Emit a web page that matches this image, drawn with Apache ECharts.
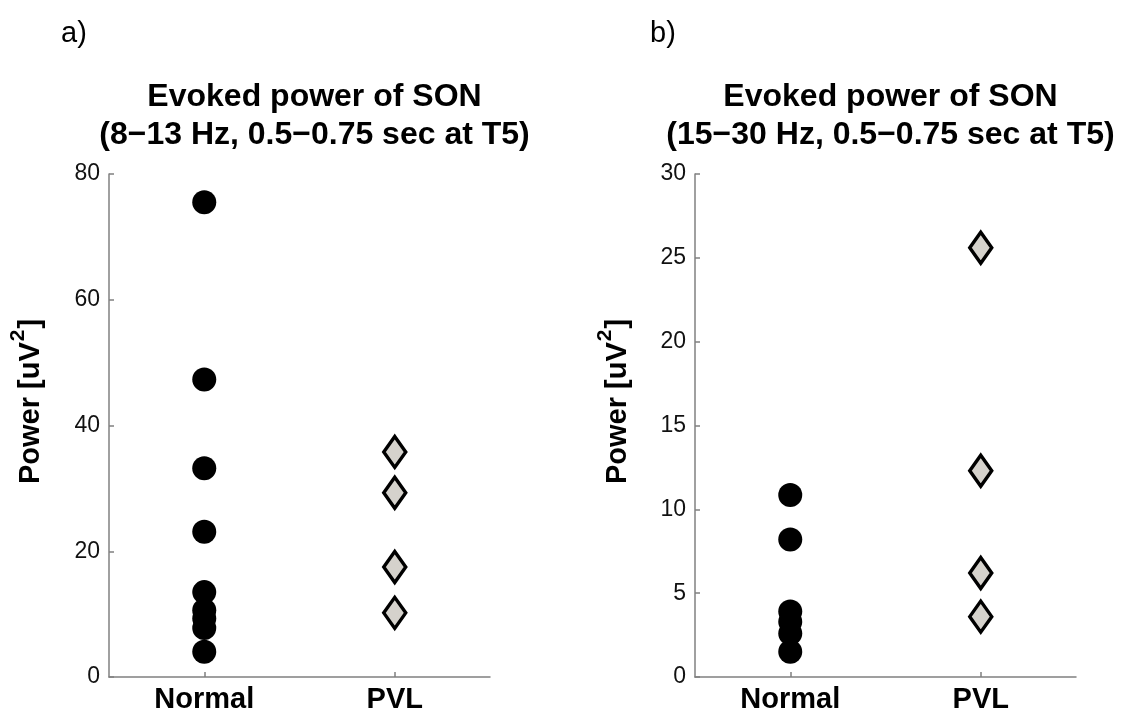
<!DOCTYPE html>
<html>
<head>
<meta charset="utf-8">
<script src="https://cdn.jsdelivr.net/npm/echarts@6/dist/echarts.min.js"></script>
<style>
  html, body { margin: 0; padding: 0; background: #fff; }
  #chart { width: 1140px; height: 716px; }
</style>
</head>
<body>
<div id="chart"></div>
<script>
// Groups on the horizontal axis
const groups = ['Normal', 'PVL'];

// Evoked power, 8-13 Hz band (uV^2)
const alphaNormal = [75.5, 47.3, 33.2, 23.1, 13.5, 10.6, 9.3, 7.8, 4.0];
const alphaPVL = [35.8, 29.3, 17.5, 10.2];

// Evoked power, 15-30 Hz band (uV^2)
const betaNormal = [10.85, 8.2, 3.9, 3.3, 2.6, 1.5];
const betaPVL = [25.6, 12.3, 6.2, 3.6];

// Vertical tick values of each panel
const alphaTicks = [0, 20, 40, 60, 80];
const betaTicks = [0, 5, 10, 15, 20, 25, 30];

const panelTitles = [
  'Evoked power of SON\n(8\u221213 Hz, 0.5\u22120.75 sec at T5)',
  'Evoked power of SON\n(15\u221230 Hz, 0.5\u22120.75 sec at T5)'
];
const panelLetters = ['a)', 'b)'];

const FONT = '"Liberation Sans", Arial, Helvetica, sans-serif';
const AXIS_GRAY = '#808080';

const grids = [
  { left: 109, top: 174, width: 381, height: 503 },
  { left: 695, top: 174, width: 381, height: 503 }
];

function xAxisFor(i) {
  return {
    type: 'category',
    gridIndex: i,
    data: groups,
    boundaryGap: true,
    axisLine: { show: true, lineStyle: { color: AXIS_GRAY, width: 1.5 } },
    axisTick: { show: true, inside: true, alignWithLabel: true, length: 5, lineStyle: { color: AXIS_GRAY, width: 1.5 } },
    axisLabel: { color: '#000', fontFamily: FONT, fontWeight: 'bold', fontSize: 29, margin: 8 },
    splitLine: { show: false }
  };
}

function yAxisFor(i, ticks, gap) {
  return {
    type: 'value',
    gridIndex: i,
    min: ticks[0],
    max: ticks[ticks.length - 1],
    interval: ticks[1] - ticks[0],
    name: '{t|Power [uV}{s|2}{t|]}',
    nameLocation: 'middle',
    nameRotate: 90,
    nameGap: gap,
    nameTextStyle: {
      padding: [0, 0, 0, 48],
      rich: {
        t: { fontFamily: FONT, fontWeight: 'bold', fontSize: 29, color: '#000' },
        s: { fontFamily: FONT, fontWeight: 'bold', fontSize: 21, color: '#000', padding: [0, 1, 24, 1] }
      }
    },
    axisLine: { show: true, lineStyle: { color: AXIS_GRAY, width: 1.5 } },
    axisTick: { show: true, inside: true, length: 5, lineStyle: { color: AXIS_GRAY, width: 1.5 } },
    axisLabel: { color: '#111', fontFamily: FONT, fontSize: 23, margin: 9 },
    splitLine: { show: false }
  };
}

function circles(i, values) {
  return {
    type: 'scatter',
    xAxisIndex: i,
    yAxisIndex: i,
    symbol: 'circle',
    symbolSize: 24,
    itemStyle: { color: '#000', opacity: 1 },
    data: values.map(v => [groups[0], v]),
    silent: true
  };
}

function diamonds(i, values) {
  return {
    type: 'scatter',
    xAxisIndex: i,
    yAxisIndex: i,
    symbol: 'diamond',
    symbolSize: [22, 31],
    itemStyle: { color: '#d5d2cc', borderColor: '#000', borderWidth: 3.5, opacity: 1 },
    data: values.map(v => [groups[1], v]),
    silent: true
  };
}

const chart = echarts.init(document.getElementById('chart'), null, { renderer: 'canvas' });

chart.setOption({
  backgroundColor: '#fff',
  animation: false,
  title: [0, 1].map(i => ({
    text: panelTitles[i],
    left: grids[i].left + grids[i].width / 2 + (i === 0 ? 10 : 0),
    top: 73,
    textAlign: 'center',
    textStyle: { fontFamily: FONT, fontWeight: 'bold', fontSize: 32, lineHeight: 38, color: '#000' }
  })).concat([0, 1].map(i => ({
    text: panelLetters[i],
    left: i === 0 ? 56 : 645,
    top: 14,
    textStyle: { fontFamily: FONT, fontWeight: 'normal', fontSize: 29, color: '#000' }
  }))),
  grid: grids,
  xAxis: [xAxisFor(0), xAxisFor(1)],
  yAxis: [yAxisFor(0, alphaTicks, 56), yAxisFor(1, betaTicks, 55)],
  series: [
    circles(0, alphaNormal),
    diamonds(0, alphaPVL),
    circles(1, betaNormal),
    diamonds(1, betaPVL)
  ]
});
</script>
</body>
</html>
